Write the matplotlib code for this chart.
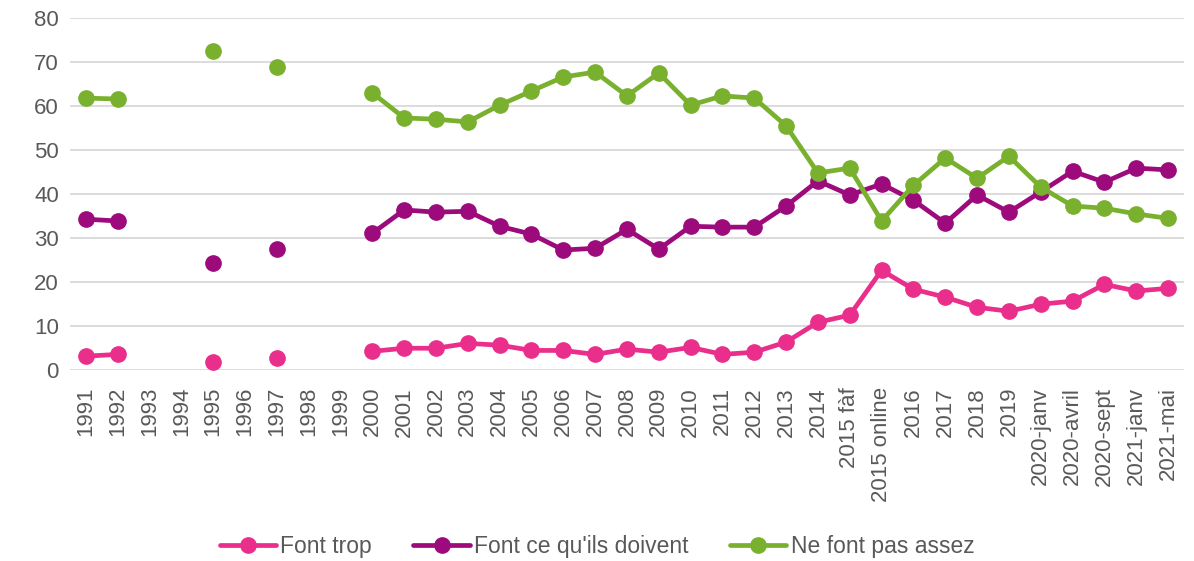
import numpy as np
import matplotlib
matplotlib.use('Agg')
import matplotlib.pyplot as plt

plt.rcParams['font.family'] = ['Liberation Sans', 'DejaVu Sans']

nan = np.nan

categories = ['1991', '1992', '1993', '1994', '1995', '1996', '1997', '1998', '1999',
              '2000', '2001', '2002', '2003', '2004', '2005', '2006', '2007', '2008',
              '2009', '2010', '2011', '2012', '2013', '2014', '2015 fàf', '2015 online',
              '2016', '2017', '2018', '2019', '2020-janv', '2020-avril', '2020-sept',
              '2021-janv', '2021-mai']

font_trop = [3.2, 3.6, nan, nan, 1.8, nan, 2.7, nan, nan,
             4.3, 5.0, 5.0, 6.1, 5.7, 4.5, 4.5, 3.6, 4.8,
             4.1, 5.2, 3.6, 4.1, 6.4, 10.9, 12.5, 22.7,
             18.4, 16.6, 14.3, 13.4, 15.0, 15.7, 19.5,
             18.0, 18.6]

font_ce_quils_doivent = [34.3, 33.9, nan, nan, 24.3, nan, 27.5, nan, nan,
                         31.1, 36.4, 35.9, 36.1, 32.7, 30.9, 27.3, 27.7, 32.0,
                         27.5, 32.7, 32.5, 32.5, 37.3, 43.0, 39.8, 42.3,
                         38.6, 33.4, 39.8, 35.9, 40.5, 45.2, 42.7,
                         45.9, 45.5]

ne_font_pas_assez = [61.8, 61.6, nan, nan, 72.5, nan, 68.9, nan, nan,
                     63.0, 57.3, 57.0, 56.4, 60.2, 63.4, 66.6, 67.7, 62.3,
                     67.5, 60.2, 62.3, 61.8, 55.5, 44.8, 45.9, 33.9,
                     42.0, 48.2, 43.6, 48.6, 41.6, 37.3, 36.8,
                     35.5, 34.5]

series = [
    ('Font trop', font_trop, '#EA2E8C'),
    ("Font ce qu'ils doivent", font_ce_quils_doivent, '#9C0A7C'),
    ('Ne font pas assez', ne_font_pas_assez, '#79B12F'),
]

fig = plt.figure(figsize=(11.94, 5.61), dpi=100)
ax = fig.add_axes([0.0586, 0.340, 0.933, 0.628])

x = np.arange(len(categories))
for label, vals, color in series:
    ax.plot(x, vals, color=color, lw=3.4, marker='o', markersize=11,
            label=label, solid_capstyle='round')

ax.set_xlim(-0.5, len(categories) - 0.5)
ax.set_ylim(0, 80)
ax.set_yticks(range(0, 81, 10))
ax.set_xticks(x)
ax.set_xticklabels(categories, rotation=90)
ax.yaxis.grid(True, color='#D9D9D9', lw=1.3)
ax.set_axisbelow(True)
for s in ax.spines.values():
    s.set_visible(False)
ax.tick_params(length=0, labelsize=16, colors='#595959')
ax.tick_params(axis='x', pad=12)
ax.tick_params(axis='y', pad=8)

leg = fig.legend(loc='center', bbox_to_anchor=(0.5, 1 - 547 / 561), ncol=3,
                 frameon=False, fontsize=16.5, handlelength=2.45, columnspacing=1.8,
                 handletextpad=0.2, markerscale=1.0)
for t in leg.get_texts():
    t.set_color('#595959')

fig.savefig('out.png', dpi=100)
